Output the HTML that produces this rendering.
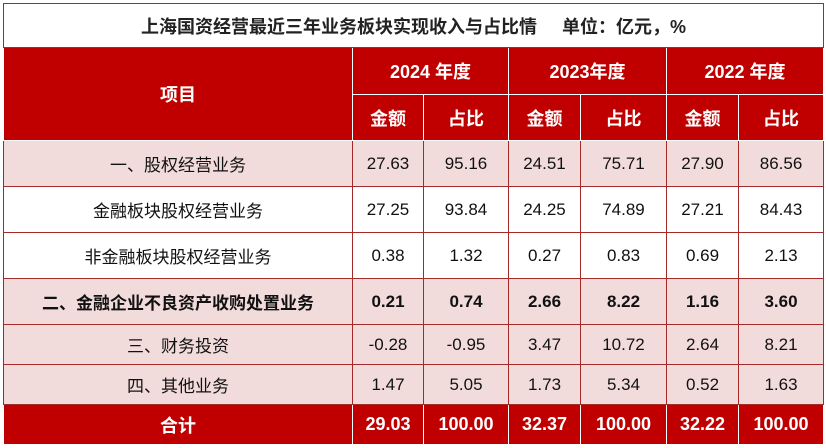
<!DOCTYPE html>
<html><head><meta charset="utf-8"><style>
body{margin:0;width:826px;height:448px;background:#fff;overflow:hidden;font-family:"Liberation Sans","Noto Sans CJK SC",sans-serif;}
table{position:absolute;left:3px;top:3px;border-collapse:collapse;table-layout:fixed;width:820px;}
td{border:1px solid #a52a2a;text-align:center;vertical-align:middle;padding:0;font-size:17px;color:#111;overflow:hidden;white-space:nowrap;}
.t{height:43px;font-weight:bold;font-size:18px;border-color:#a52a2a;color:#222;}
.h{background:#c00000;color:#fff;font-weight:bold;border-color:#fff;font-size:18px;}
.p td{background:#f2dcdb;}
.b td{font-weight:bold;}
.tot td{background:#c00000;color:#fff;font-weight:bold;border-color:#fff;font-size:18px;}
</style></head><body>
<table>
<colgroup><col style="width:349px"><col style="width:71px"><col style="width:85px"><col style="width:72px"><col style="width:86px"><col style="width:72px"><col style="width:85px"></colgroup>
<tr><td class="t" colspan="7">上海国资经营最近三年业务板块实现收入与占比情&nbsp;&nbsp;&nbsp;&nbsp;&nbsp;单位：亿元，%</td></tr>
<tr style="height:47px">
<td class="h" rowspan="2">项目</td>
<td class="h" colspan="2">2024 年度</td>
<td class="h" colspan="2">2023年度</td>
<td class="h" colspan="2">2022 年度</td></tr>
<tr style="height:46px">
<td class="h">金额</td><td class="h">占比</td>
<td class="h">金额</td><td class="h">占比</td>
<td class="h">金额</td><td class="h">占比</td></tr>
<tr class="p" style="height:46px"><td>一、股权经营业务</td><td>27.63</td><td>95.16</td><td>24.51</td><td>75.71</td><td>27.90</td><td>86.56</td></tr>
<tr style="height:46px"><td>金融板块股权经营业务</td><td>27.25</td><td>93.84</td><td>24.25</td><td>74.89</td><td>27.21</td><td>84.43</td></tr>
<tr style="height:46px"><td>非金融板块股权经营业务</td><td>0.38</td><td>1.32</td><td>0.27</td><td>0.83</td><td>0.69</td><td>2.13</td></tr>
<tr class="p b" style="height:46px"><td>二、金融企业不良资产收购处置业务</td><td>0.21</td><td>0.74</td><td>2.66</td><td>8.22</td><td>1.16</td><td>3.60</td></tr>
<tr class="p" style="height:40px"><td>三、财务投资</td><td>-0.28</td><td>-0.95</td><td>3.47</td><td>10.72</td><td>2.64</td><td>8.21</td></tr>
<tr class="p" style="height:40px"><td>四、其他业务</td><td>1.47</td><td>5.05</td><td>1.73</td><td>5.34</td><td>0.52</td><td>1.63</td></tr>
<tr class="tot" style="height:40px"><td>合计</td><td>29.03</td><td>100.00</td><td>32.37</td><td>100.00</td><td>32.22</td><td>100.00</td></tr>
</table>
</body></html>
